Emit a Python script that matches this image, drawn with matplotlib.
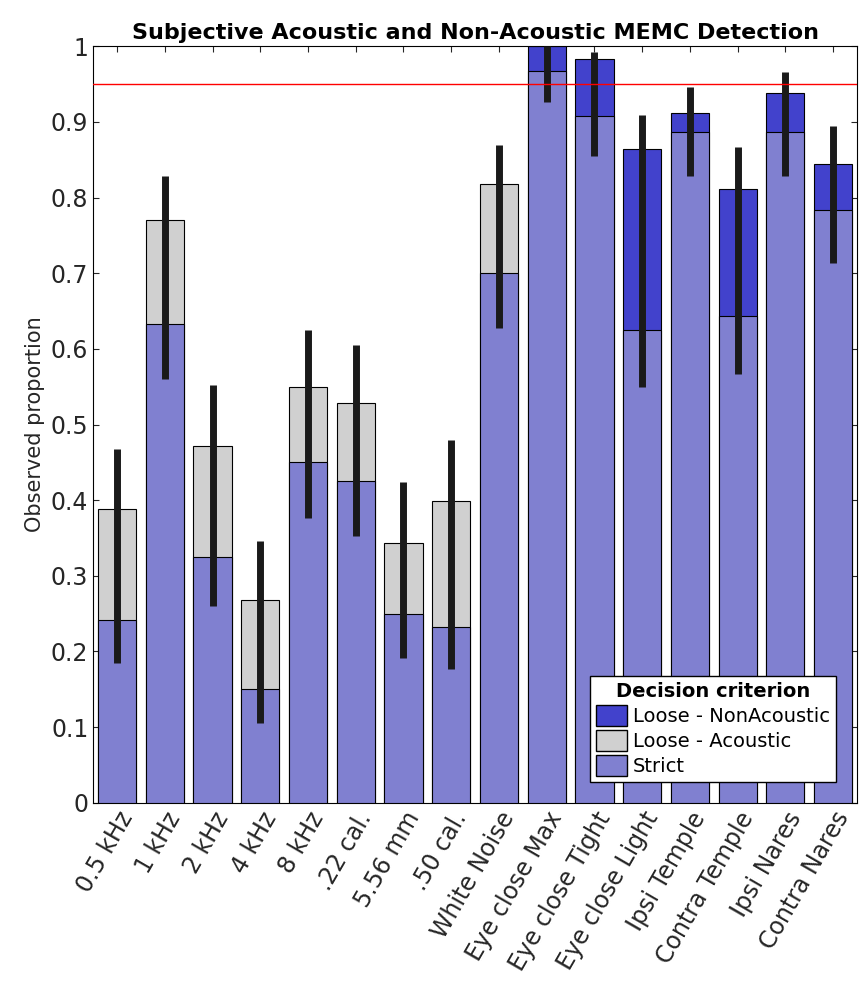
import matplotlib
matplotlib.use("Agg")
import matplotlib.pyplot as plt
import numpy as np
from matplotlib.patches import Patch

categories = ["0.5 kHz","1 kHz","2 kHz","4 kHz","8 kHz",".22 cal.","5.56 mm",".50 cal.",
              "White Noise","Eye close Max","Eye close Tight","Eye close Light",
              "Ipsi Temple","Contra Temple","Ipsi Nares","Contra Nares"]
strict = [0.242,0.633,0.325,0.15,0.45,0.425,0.25,0.233,0.70,0.967,0.908,0.625,0.887,0.643,0.887,0.783]
loose = [0.389,0.771,0.471,0.268,0.55,0.529,0.343,0.399,0.818,1.0,0.983,0.864,0.912,0.812,0.938,0.845]
acoustic = [True]*9 + [False]*7
err_lo = [0.185,0.56,0.26,0.105,0.377,0.353,0.192,0.177,0.627,0.927,0.855,0.55,0.829,0.567,0.829,0.713]
err_hi = [0.468,0.828,0.552,0.346,0.625,0.605,0.424,0.479,0.869,1.0,0.993,0.909,0.946,0.867,0.966,0.894]

c_strict = "#8080D0"
c_nonac = "#4242CC"
c_ac = "#D0D0D0"

fig = plt.figure(figsize=(8.63, 9.85), dpi=100)
ax = fig.add_axes([0.108, 0.185, 0.885, 0.768])
x = np.arange(1, len(categories)+1)
ax.bar(x, loose, width=0.8, color=[c_ac if a else c_nonac for a in acoustic], edgecolor="black", linewidth=0.8, zorder=2)
ax.bar(x, strict, width=0.8, color=c_strict, edgecolor="black", linewidth=0.8, zorder=3)
for xi, lo, hi in zip(x, err_lo, err_hi):
    ax.plot([xi, xi], [lo, hi], color="#1a1a1a", linewidth=5, zorder=4, solid_capstyle="butt")
ax.axhline(0.95, color="red", linewidth=1, zorder=5)
ax.set_xlim(0.5, 16.5)
ax.set_ylim(0, 1)
ax.set_yticks(np.arange(0, 1.01, 0.1))
ax.set_yticklabels(["0"] + [f"{v:.1f}" for v in np.arange(0.1, 0.95, 0.1)] + ["1"])
ax.set_xticks(x)
ax.set_xticklabels(categories, rotation=60, ha="right", rotation_mode="anchor")
ax.tick_params(direction="in", labelsize=17, length=4, top=True, right=True, colors="#262626")
for lab in ax.get_xticklabels() + ax.get_yticklabels():
    lab.set_color("#262626")
ax.set_ylabel("Observed proportion", fontsize=15, color="#262626")
ax.set_title("Subjective Acoustic and Non-Acoustic MEMC Detection", fontsize=16, fontweight="bold", pad=5)
handles = [Patch(facecolor=c_nonac, edgecolor="black", label="Loose - NonAcoustic"),
           Patch(facecolor=c_ac, edgecolor="black", label="Loose - Acoustic"),
           Patch(facecolor=c_strict, edgecolor="black", label="Strict")]
leg = ax.legend(handles=handles, loc="lower right", bbox_to_anchor=(0.985, 0.015), title="Decision criterion",
                fontsize=14, title_fontproperties={"weight": "bold", "size": 14},
                fancybox=False, edgecolor="black", framealpha=1, handlelength=1.6, handleheight=1.3,
                borderpad=0.3, labelspacing=0.2, handletextpad=0.3)
fig.savefig("out.png", dpi=100)
